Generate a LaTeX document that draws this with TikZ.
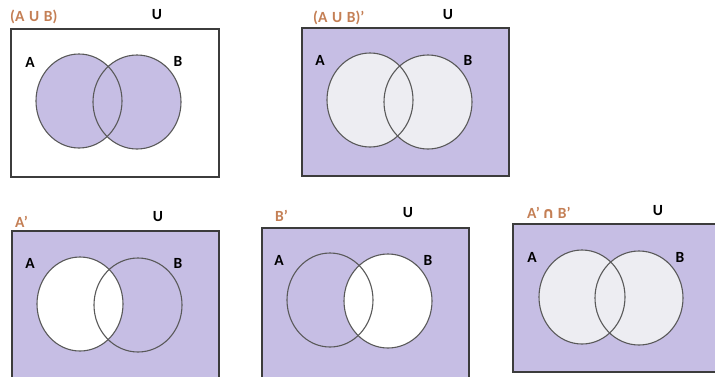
\documentclass[tikz,border=0pt]{standalone}
\usepackage{fontspec}
\setmainfont{Carlito}
\newfontfamily\capfont{DejaVu Sans}
\usepackage{xcolor}
\definecolor{setfill}{HTML}{C6BEE4}
\definecolor{lightset}{HTML}{EDEDF2}
\definecolor{titlecol}{HTML}{C47F55}
\definecolor{edgecol}{HTML}{3C3C3C}

\begin{document}
\begin{tikzpicture}[x=1pt, y=-1pt,
  universe/.style={draw=edgecol, line width=1.2pt},
  setline/.style={draw=edgecol!85, line width=1.1pt},
  title/.style={font=\fontsize{15.5}{17}\selectfont\bfseries, text=titlecol, anchor=west, inner sep=0pt},
  setname/.style={font=\fontsize{15.5}{17}\selectfont\bfseries, text=black, inner sep=0pt}]
  \useasboundingbox (0,0) rectangle (715,376);

  % (A U B)
  \draw[universe, fill=white] (11,29) rectangle (219,177);
  \fill[setfill] (79,101) ellipse [x radius=43, y radius=47];
  \fill[setfill] (137,102) ellipse [x radius=44, y radius=47];
  \draw[setline] (79,101) ellipse [x radius=43, y radius=47];
  \draw[setline] (137,102) ellipse [x radius=44, y radius=47];
  \node[title]   (t1) at (10,17)  {(A\hspace{0.3em}U\hspace{0.3em}B)};
  \node[setname] (u1) at (157,15) {U};
  \node[setname] (a1) at (30,62)  {A};
  \node[setname] (b1) at (178,61) {B};

  % (A U B)'
  \draw[universe, fill=setfill] (302,28) rectangle (509,176);
  \fill[lightset] (370,100) ellipse [x radius=43, y radius=47];
  \fill[lightset] (428,102) ellipse [x radius=44, y radius=47];
  \draw[setline] (370,100) ellipse [x radius=43, y radius=47];
  \draw[setline] (428,102) ellipse [x radius=44, y radius=47];
  \node[title]   (t2) at (313,18) {(A\hspace{0.3em}U\hspace{0.3em}B)'};
  \node[setname] (u2) at (448,15) {U};
  \node[setname] (a2) at (320,60) {A};
  \node[setname] (b2) at (468,60) {B};

  % A'
  \draw[universe, fill=setfill] (12,231) rectangle (219,380);
  \fill[white] (80,304) ellipse [x radius=43, y radius=47];
  \draw[setline] (80,304) ellipse [x radius=43, y radius=47];
  \draw[setline] (138,305) ellipse [x radius=44, y radius=47];
  \node[title]   (t3) at (15,222) {A'};
  \node[setname] (u3) at (158,217) {U};
  \node[setname] (a3) at (30,263)  {A};
  \node[setname] (b3) at (178,263) {B};

  % B'
  \draw[universe, fill=setfill] (262,228) rectangle (469,380);
  \fill[white] (388,301) ellipse [x radius=44, y radius=47];
  \draw[setline] (330,300) ellipse [x radius=43, y radius=47];
  \draw[setline] (388,301) ellipse [x radius=44, y radius=47];
  \node[title]   (t4) at (275,216) {B'};
  \node[setname] (u4) at (408,213) {U};
  \node[setname] (a4) at (279,260) {A};
  \node[setname] (b4) at (428,260) {B};

  % A' n B'
  \draw[universe, fill=setfill] (513,224) rectangle (720,372);
  \fill[lightset] (582,297) ellipse [x radius=43, y radius=47];
  \fill[lightset] (639,298) ellipse [x radius=44, y radius=47];
  \draw[setline] (582,297) ellipse [x radius=43, y radius=47];
  \draw[setline] (639,298) ellipse [x radius=44, y radius=47];
  \node[title]   (t5) at (527,213) {A'\hspace{0.15em}{\capfont\bfseries ∩}\hspace{0.2em}B'};
  \node[setname] (u5) at (658,211) {U};
  \node[setname] (a5) at (532,257) {A};
  \node[setname] (b5) at (680,257) {B};
\end{tikzpicture}
\end{document}
